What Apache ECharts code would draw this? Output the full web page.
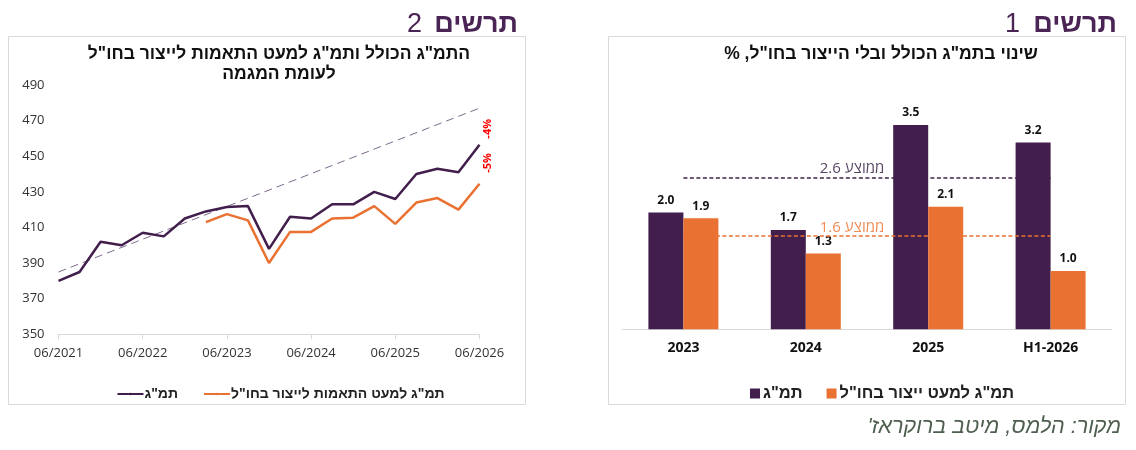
<!DOCTYPE html>
<html>
<head>
<meta charset="utf-8">
<script src="https://cdn.jsdelivr.net/npm/echarts@6/dist/echarts.min.js"></script>
<style>
  html, body { margin: 0; padding: 0; background: #fff; }
  #main { width: 1136px; height: 450px; }
</style>
</head>
<body>
<div id="main"></div>
<script>
// --- chart 2 (line): quarterly GDP vs. GDP excluding foreign-production adjustments
var quarters = ['06/2021', '09/2021', '12/2021', '03/2022', '06/2022', '09/2022', '12/2022',
  '03/2023', '06/2023', '09/2023', '12/2023', '03/2024', '06/2024', '09/2024', '12/2024',
  '03/2025', '06/2025', '09/2025', '12/2025', '03/2026', '06/2026'];
var gdp = [380, 385, 402, 400, 407, 405, 415, 419, 421.5, 422, 398, 416, 415, 423, 423,
  430, 426, 440, 443, 441, 456.5];
var gdpExForeign = [null, null, null, null, null, null, null, 413, 417.5, 414, 390, 407.5,
  407.5, 415, 415.5, 422, 412, 424, 426.5, 420, 434.5];
var trendEnds = [385, 477];
var gapLabels = ['-4%', '-5%'];

// --- chart 1 (bars): yearly change, %
var years = ['2023', '2024', '2025', 'H1-2026'];
var gdpChange = [2.0, 1.7, 3.5, 3.2];
var exForeignChange = [1.9, 1.3, 2.1, 1.0];
var avgGdp = 2.6;
var avgExForeign = 1.6;

var nameGdp = 'תמ"ג';
var nameExAdj = 'תמ"ג למעט התאמות לייצור בחו"ל';
var nameExProd = 'תמ"ג למעט ייצור בחו"ל';

var PURPLE = '#411e4c';
var ORANGE = '#e97132';
var HEAD = '#4a2454';
var HEB = "'Liberation Sans', 'DejaVu Sans', sans-serif";
var NUM = "'Open Sans', 'Liberation Sans', sans-serif";

var last = quarters.length - 1;
// vertical red gap label just above the last point of a line
function gapMark(value, text, dy) {
  return {
    symbol: 'circle', symbolSize: 0, silent: true,
    data: [{
      coord: [quarters[last], value],
      label: {
        show: true, formatter: text, position: [8.5, dy],
        rotate: 90, align: 'left', verticalAlign: 'middle',
        color: '#ff0000', fontSize: 11, fontWeight: 'bold', fontFamily: NUM
      }
    }]
  };
}

// dashed average line across the bar chart, from first to last category centre
function avgSeries(value, lineColor, textColor, z) {
  return {
    name: 'avg-' + value, type: 'line', xAxisIndex: 1, yAxisIndex: 1, data: [],
    markLine: {
      silent: true, symbol: 'none', z: z,
      lineStyle: { color: lineColor, width: 1.5, type: [4, 2.5] },
      label: { show: true, position: 'insideMiddleTop', formatter: 'ממוצע ' + value.toFixed(1),
        color: textColor, fontSize: 15, fontFamily: NUM, distance: 1, padding: [0, 30, 0, 0] },
      data: [[{ coord: [years[0], value] }, { coord: [years[years.length - 1], value] }]]
    }
  };
}

var myChart = echarts.init(document.getElementById('main'));
var option = {
  animation: false,
  textStyle: { fontFamily: HEB },
  graphic: [
    { type: 'rect', shape: { x: 8.5, y: 36.5, width: 517, height: 368 },
      style: { fill: 'none', stroke: '#d9d9d9', lineWidth: 1 } },
    { type: 'rect', shape: { x: 608.5, y: 36.5, width: 517, height: 368 },
      style: { fill: 'none', stroke: '#d9d9d9', lineWidth: 1 } }
  ],
  title: [
    // page headers: bold word + regular number
    { text: 'תרשים', right: 1136 - 523, top: 6,
      textStyle: { fontSize: 27, fontWeight: 'bold', color: HEAD, fontFamily: HEB } },
    { text: '2', right: 1136 - 427, top: 6,
      textStyle: { fontSize: 27, fontWeight: 'normal', color: HEAD, fontFamily: HEB } },
    { text: 'תרשים', right: 1136 - 1122, top: 6,
      textStyle: { fontSize: 27, fontWeight: 'bold', color: HEAD, fontFamily: HEB } },
    { text: '1', right: 1136 - 1025, top: 6,
      textStyle: { fontSize: 27, fontWeight: 'normal', color: HEAD, fontFamily: HEB } },
    { text: 'התמ"ג הכולל ותמ"ג למעט התאמות לייצור בחו"ל\nלעומת המגמה', left: 274, top: 39,
      textAlign: 'center',
      textStyle: { fontSize: 17.5, fontWeight: 'bold', color: '#111', lineHeight: 20, fontFamily: HEB } },
    { text: 'שינוי בתמ"ג הכולל ובלי הייצור בחו"ל, %\u200F', left: 876, top: 40,
      textAlign: 'center',
      textStyle: { fontSize: 17.5, fontWeight: 'bold', color: '#111', fontFamily: HEB } },
    { text: 'מקור: הלמס, מיטב ברוקראז\'\u200F', right: 10, top: 411,
      textStyle: { fontSize: 21.5, fontStyle: 'italic', fontWeight: 'normal', color: '#4f5f4f', fontFamily: HEB } }
  ],
  legend: [
    { data: [nameGdp, nameExAdj], left: 116.5, top: 387, padding: 0,
      itemWidth: 26, itemHeight: 3, itemGap: 25,
      textStyle: { fontSize: 14, fontWeight: 'bold', color: '#222', fontFamily: HEB, padding: [0, 0, 0, -4] } },
    { data: [nameGdp, nameExProd], left: 750, top: 385, padding: 0,
      itemWidth: 10, itemHeight: 10, itemGap: 24, icon: 'rect',
      textStyle: { fontSize: 16.5, fontWeight: 'bold', color: '#222', fontFamily: HEB, padding: [0, 0, 0, -2] } }
  ],
  grid: [
    { left: 58.5, right: 656.5, top: 85, bottom: 115.7 },
    { left: 622.2, right: 24.2, top: 66.5, bottom: 120.7 }
  ],
  xAxis: [
    { gridIndex: 0, type: 'category', data: quarters, boundaryGap: false,
      axisLine: { lineStyle: { color: '#d9d9d9' } },
      axisTick: { interval: 3, length: 5, lineStyle: { color: '#d9d9d9' } },
      axisLabel: { interval: 3, color: '#333', fontSize: 13, fontFamily: NUM, margin: 12 } },
    { gridIndex: 1, type: 'category', data: years,
      axisLine: { lineStyle: { color: '#d9d9d9' } },
      axisTick: { length: 6, lineStyle: { color: '#d9d9d9' } },
      axisLabel: { color: '#111', fontSize: 14, fontWeight: 'bold', fontFamily: NUM, margin: 12 } }
  ],
  yAxis: [
    { gridIndex: 0, type: 'value', min: 350, max: 490, interval: 20,
      axisLine: { show: false }, axisTick: { show: false }, splitLine: { show: false },
      axisLabel: { color: '#333', fontSize: 13, fontFamily: NUM, margin: 14 } },
    { gridIndex: 1, type: 'value', min: 0, max: 4.5, show: false, splitLine: { show: false } }
  ],
  series: [
    { name: nameGdp, type: 'line', xAxisIndex: 0, yAxisIndex: 0, z: 4,
      data: gdp,
      symbol: 'none', lineStyle: { color: PURPLE, width: 2.5 }, itemStyle: { color: PURPLE },
      markPoint: gapMark(gdp[last], gapLabels[0], -6),
      markLine: {
        silent: true, symbol: 'none', z: 1, label: { show: false },
        lineStyle: { color: '#7c6a8a', width: 1, type: [8, 5] },
        data: [[{ coord: [quarters[0], trendEnds[0]] }, { coord: [quarters[last], trendEnds[1]] }]]
      } },
    { name: nameExAdj, type: 'line', xAxisIndex: 0, yAxisIndex: 0, z: 3,
      data: gdpExForeign,
      symbol: 'none', lineStyle: { color: ORANGE, width: 2.5 }, itemStyle: { color: ORANGE },
      markPoint: gapMark(gdpExForeign[last], gapLabels[1], -11) },
    { name: nameGdp, type: 'bar', xAxisIndex: 1, yAxisIndex: 1, data: gdpChange,
      barWidth: 35, barGap: '0%', z: 2,
      itemStyle: { color: PURPLE },
      label: { show: true, position: 'top', distance: 6, formatter: function (p) { return p.value.toFixed(1); },
        color: '#111', fontSize: 12, fontWeight: 'bold', fontFamily: NUM } },
    { name: nameExProd, type: 'bar', xAxisIndex: 1, yAxisIndex: 1, data: exForeignChange,
      barWidth: 35, z: 2,
      itemStyle: { color: ORANGE },
      label: { show: true, position: 'top', distance: 6, formatter: function (p) { return p.value.toFixed(1); },
        color: '#111', fontSize: 12, fontWeight: 'bold', fontFamily: NUM } },
    avgSeries(avgGdp, '#3e2249', '#5a4766', 1),
    avgSeries(avgExForeign, ORANGE, '#f08c55', 5)
  ]
};
myChart.setOption(option);
</script>
</body>
</html>
